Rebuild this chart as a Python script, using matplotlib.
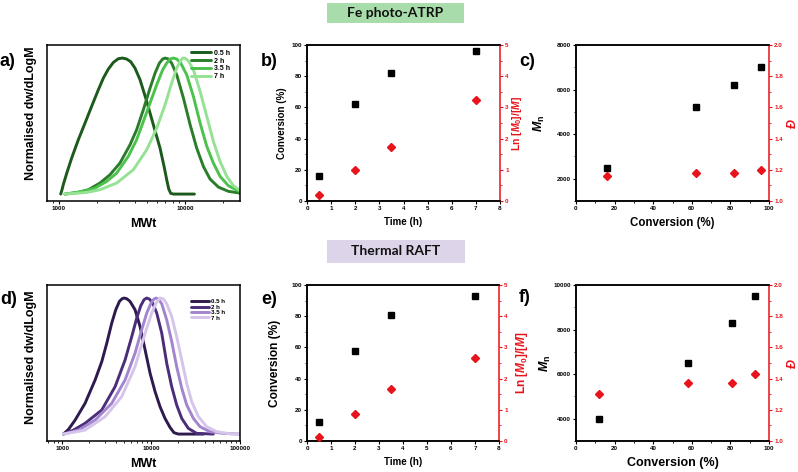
import matplotlib.pyplot as plt
from matplotlib.patches import Rectangle
from matplotlib.ticker import FuncFormatter, MultipleLocator, NullLocator

plt.rcParams.update({
    "font.family": ["Liberation Sans", "DejaVu Sans"],
    "font.weight": "bold",
    "axes.labelweight": "bold",
    "mathtext.fontset": "custom",
    "mathtext.rm": "Liberation Sans:bold",
    "mathtext.it": "Liberation Sans:italic:bold",
    "mathtext.bf": "Liberation Sans:bold",
    "axes.linewidth": 1.1,
})

RED = "#e8131b"
W, H = 798, 472

# ---- data ----
time_labels = ["0.5 h", "2 h", "3.5 h", "7 h"]
times = [0.5, 2, 3.5, 7]

atrp_conv = [16, 62, 82, 96]
atrp_ln = [0.18, 0.98, 1.72, 3.23]
atrp_mn = [2500, 5200, 6200, 7000]
atrp_disp = [1.16, 1.18, 1.18, 1.20]

raft_conv = [12, 58, 81, 93]
raft_ln = [0.12, 0.87, 1.66, 2.65]
raft_mn = [4000, 6500, 8300, 9500]
raft_disp = [1.30, 1.37, 1.37, 1.43]

# GPC traces (molecular weight, normalised dw/dlogM)
atrp_mw_05 = [1038, 1062, 1089, 1156, 1268, 1432, 1614, 1824, 2061, 2259, 2472,
              2710, 2965, 3192, 3451, 3715, 4018, 4406, 4977, 5610, 6339, 6823,
              7161, 7430, 7709, 8091, 11858]
atrp_w_05 = [0, 0.03, 0.07, 0.15, 0.265, 0.40, 0.52, 0.645, 0.767, 0.853, 0.919,
             0.968, 0.995, 1.0, 0.993, 0.973, 0.926, 0.84, 0.681, 0.51, 0.338, 0.203,
             0.105, 0.037, 0.005, 0, 0]
atrp_mw_2 = [1122, 1387, 1718, 2123, 2547, 3055, 3673, 4140, 4677, 5284, 5794,
             6266, 6653, 6950, 7379, 7834, 8590, 9705, 10965, 12359, 13964, 15776,
             18365, 22029, 27227]
atrp_w_2 = [0, 0.01, 0.032, 0.081, 0.142, 0.228, 0.363, 0.473, 0.62, 0.779, 0.89,
            0.963, 0.993, 1.0, 0.993, 0.963, 0.877, 0.706, 0.51, 0.338, 0.203, 0.11,
            0.051, 0.02, 0.007]
atrp_mw_35 = [1122, 1567, 1941, 2399, 2877, 3556, 4140, 4677, 5284, 5970, 6653,
              7161, 7603, 8091, 8590, 9247, 10304, 11641, 13152, 14859, 16749,
              18923, 22029, 27227]
atrp_w_35 = [0, 0.02, 0.044, 0.093, 0.154, 0.277, 0.40, 0.534, 0.669, 0.804, 0.914,
             0.963, 0.993, 1.0, 0.993, 0.963, 0.877, 0.718, 0.522, 0.35, 0.228,
             0.13, 0.061, 0.017]
atrp_mw_7 = [1122, 1667, 2123, 2877, 3899, 4977, 5970, 6950, 7834, 8590, 9120,
             9594, 10069, 10691, 11641, 13152, 14859, 16749, 18923, 21380, 24155,
             27227]
atrp_w_7 = [0, 0.012, 0.032, 0.081, 0.179, 0.326, 0.485, 0.657, 0.816, 0.926, 0.975,
            1.0, 0.998, 0.975, 0.914, 0.755, 0.571, 0.387, 0.24, 0.13, 0.061, 0.027]

raft_mw_05 = [1035, 1178, 1400, 1811, 2350, 2793, 3177, 3614, 4009, 4406, 4721,
              4977, 5333, 5808, 6607, 7516, 8570, 9750, 11092, 12618, 14355, 16331,
              18113, 20277, 38726]
raft_w_05 = [0, 0.034, 0.103, 0.226, 0.398, 0.533, 0.668, 0.816, 0.914, 0.975, 0.995,
             1.0, 0.995, 0.975, 0.914, 0.791, 0.619, 0.447, 0.312, 0.201, 0.115,
             0.049, 0.01, 0, 0]
raft_mw_2 = [1035, 1340, 1811, 2793, 3945, 5105, 6067, 6902, 7656, 8337, 8933,
             9572, 10447, 11588, 13183, 14997, 17061, 19409, 22131, 26242, 32584,
             50119]
raft_w_2 = [0, 0.029, 0.079, 0.177, 0.349, 0.545, 0.717, 0.853, 0.943, 0.988, 1.0,
            0.993, 0.963, 0.889, 0.742, 0.521, 0.349, 0.214, 0.115, 0.042, 0.005, 0]
raft_mw_35 = [1035, 1528, 2350, 3614, 5105, 6607, 7852, 8933, 9908, 10617, 11272,
              12078, 13183, 14997, 17061, 19409, 22131, 25177, 29923, 35563, 46026,
              65013, 100000]
raft_w_35 = [0, 0.029, 0.103, 0.226, 0.398, 0.595, 0.767, 0.889, 0.958, 0.988, 1.0,
             0.993, 0.958, 0.84, 0.681, 0.496, 0.337, 0.214, 0.115, 0.054, 0.017,
             0.005, 0]
raft_mw_7 = [1035, 1811, 3041, 4677, 6607, 8570, 10162, 11376, 12618, 13772, 14997,
             17061, 19409, 22131, 25177, 28642, 34041, 42170, 54702, 77268, 100000]
raft_w_7 = [0, 0.029, 0.128, 0.275, 0.496, 0.742, 0.889, 0.963, 1.0, 0.993, 0.958,
            0.865, 0.717, 0.545, 0.373, 0.238, 0.128, 0.054, 0.017, 0.002, 0]

green = ["#1b5a1b", "#2b7d2b", "#4cc24c", "#95e295"]
purple = ["#2e1a4e", "#4b2d79", "#a385cf", "#d5c5ea"]


def rect(x0, y0, x1, y1):
    return [x0 / W, 1 - y1 / H, (x1 - x0) / W, (y1 - y0) / H]


def style_ticks(ax, **kw):
    ax.tick_params(which="major", direction="out", length=2.5, width=0.8,
                   labelsize=4.5, pad=1.2, **kw)
    ax.tick_params(which="minor", direction="out", length=1.4, width=0.6, **kw)


def gpc_panel(fig, box, mws, ws, colors, xlim, leg_top, leg_fs, leg_sp,
              xpad, label_y):
    ax = fig.add_axes(rect(*box))
    for mw, w, c, lab in zip(mws, ws, colors, time_labels):
        ax.plot(mw, w, color=c, lw=2.1, label=lab, solid_capstyle="round",
                solid_joinstyle="round")
    ax.set_xscale("log")
    ax.set_xlim(*xlim)
    ax.set_ylim(-0.051, 1.096)
    ax.yaxis.set_major_locator(NullLocator())
    ax.xaxis.set_major_formatter(FuncFormatter(lambda v, p: f"{v:g}"))
    ax.xaxis.set_minor_formatter(FuncFormatter(lambda v, p: ""))
    style_ticks(ax)
    ax.tick_params(axis="x", which="both", top=False)
    ax.set_xlabel("MWt", fontsize=9, labelpad=xpad)
    ax.set_ylabel("Normalised dw/dLogM", fontsize=9)
    ax.yaxis.set_label_coords(-0.052, label_y)
    ax.legend(loc="upper left", bbox_to_anchor=(0.745, leg_top), frameon=False,
              fontsize=leg_fs, handlelength=2.9, handletextpad=0.4,
              labelspacing=leg_sp, borderpad=0, borderaxespad=0)
    return ax


def dual_panel(fig, box, x, left, right, xlim, xmaj, xmin, ylim, ymaj, ymin,
               rlim, rmaj, rmin, xlabel, ylabel, rlabel, xfs, yfs, rfs,
               xpad, ypad, rpad):
    ax = fig.add_axes(rect(*box))
    ax.plot(x, left, "s", color="black", ms=3.7, zorder=3)
    ax.set_xlim(*xlim)
    ax.set_ylim(*ylim)
    ax.xaxis.set_major_locator(MultipleLocator(xmaj))
    if xmin:
        ax.xaxis.set_minor_locator(MultipleLocator(xmin))
    ax.yaxis.set_major_locator(MultipleLocator(ymaj))
    ax.yaxis.set_minor_locator(MultipleLocator(ymin))
    style_ticks(ax)
    ax.spines["right"].set_visible(False)
    ax.set_xlabel(xlabel, fontsize=xfs, labelpad=xpad)
    ax.set_ylabel(ylabel, fontsize=yfs, labelpad=ypad)

    ax2 = ax.twinx()
    ax2.plot(x, right, "D", color=RED, ms=3.9, zorder=3)
    ax2.set_ylim(*rlim)
    ax2.yaxis.set_major_locator(MultipleLocator(rmaj))
    ax2.yaxis.set_minor_locator(MultipleLocator(rmin))
    style_ticks(ax2, colors=RED)
    ax2.spines["right"].set_color(RED)
    ax2.set_ylabel(rlabel, fontsize=rfs, color=RED, labelpad=rpad)
    return ax, ax2


fig = plt.figure(figsize=(W / 100, H / 100), dpi=100)

# banners
fig.add_artist(Rectangle((327 / W, 1 - 23 / H), 137 / W, 20 / H,
                         transform=fig.transFigure, facecolor="#a9dcab", edgecolor="none"))
fig.text(395.5 / W, 1 - 13 / H, "Fe photo-ATRP", fontsize=10, family="Lato",
         weight="bold", ha="center", va="center", color="#111111")
fig.add_artist(Rectangle((327 / W, 1 - 263 / H), 138 / W, 23 / H,
                         transform=fig.transFigure, facecolor="#ddd4ea", edgecolor="none"))
fig.text(396 / W, 1 - 251.5 / H, "Thermal RAFT", fontsize=10, family="Lato",
         weight="bold", ha="center", va="center", color="#111111")

# panel letters
for lab, x, y in [("a)", 0, 62), ("b)", 261, 62), ("c)", 519, 62),
                  ("d)", 0, 299), ("e)", 261, 299), ("f)", 519, 297)]:
    fig.text(x / W, 1 - y / H, lab, fontsize=13, weight="bold", ha="left", va="center")

gpc_panel(fig, (47, 45, 240, 201),
          [atrp_mw_05, atrp_mw_2, atrp_mw_35, atrp_mw_7],
          [atrp_w_05, atrp_w_2, atrp_w_35, atrp_w_7],
          green, (809, 27200), 0.97, 5.0, 0.12, 5, 0.56)
gpc_panel(fig, (47, 285, 240, 441),
          [raft_mw_05, raft_mw_2, raft_mw_35, raft_mw_7],
          [raft_w_05, raft_w_2, raft_w_35, raft_w_7],
          purple, (676, 100000), 0.91, 4.4, 0.02, 5, 0.54)

ln_label = r"Ln [$M_0$]/[$M$]"
mn_label = r"$M$$_{\mathrm{n}}$"
disp_label = "\u0110"

dual_panel(fig, (307, 45, 500, 201), times, atrp_conv, atrp_ln,
           (0, 8), 1, None, (0, 100), 20, 10, (0, 5), 1, 0.5,
           "Time (h)", "Conversion (%)", ln_label, 7, 7, 7.5, 4, 3, 1)
ax_c, ax_c2 = dual_panel(fig, (576, 45, 769, 201), atrp_conv, atrp_mn, atrp_disp,
                         (0, 100), 20, 10, (1000, 8000), 2000, 1000, (1.0, 2.0), 0.2, 0.1,
                         "Conversion (%)", mn_label, disp_label, 8.3, 9, 9, 4, 7, 3)
dual_panel(fig, (307, 285, 499, 441), times, raft_conv, raft_ln,
           (0, 8), 1, None, (0, 100), 20, 10, (0, 5), 1, 0.5,
           "Time (h)", "Conversion (%)", ln_label, 7, 8.6, 8.6, 4.5, 7.5, 4.5)
ax_f, ax_f2 = dual_panel(fig, (576, 285, 769, 441), raft_conv, raft_mn, raft_disp,
                         (0, 100), 20, 10, (3000, 10000), 2000, 1000, (1.0, 2.0), 0.2, 0.1,
                         "Conversion (%)", mn_label, disp_label, 9, 9, 9, 4.5, 0, 3)
for a in (ax_c2, ax_f2):
    a.yaxis.label.set_style("italic")
    a.yaxis.set_major_formatter(FuncFormatter(lambda v, p: f"{v:.1f}"))

fig.savefig("out.png", dpi=100)
